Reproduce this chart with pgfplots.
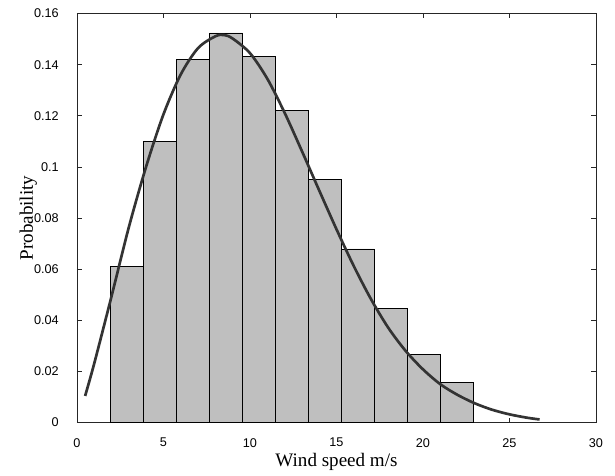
\documentclass[border=0pt]{standalone}
\usepackage{fontspec}
\setmainfont{Liberation Serif}
\newfontfamily\helv{Liberation Sans}
\usepackage{pgfplots}
\pgfplotsset{compat=1.18}

\definecolor{barfill}{RGB}{191,191,191}
\definecolor{curvegray}{RGB}{51,51,51}
\definecolor{axisgray}{RGB}{38,38,38}

\begin{document}
\begin{tikzpicture}
  % keep the reference's margins (1px = 0.75pt)
  \useasboundingbox (-57.75pt,-39.4pt) rectangle (403.5pt,316.9pt);
  \begin{axis}[
    scale only axis,
    width=389.25pt, height=306.75pt,
    xmin=0, xmax=30,
    ymin=0, ymax=0.16,
    xtick={0,5,10,15,20,25,30},
    ytick={0,0.02,0.04,0.06,0.08,0.1,0.12,0.14,0.16},
    yticklabels={0,0.02,0.04,0.06,0.08,0.1,0.12,0.14,0.16},
    scaled y ticks=false,
    tick align=inside,
    major tick length=3.5pt,
    tick style={axisgray, line width=0.5pt},
    axis line style={axisgray, line width=0.5pt},
    ticklabel style={font=\helv\fontsize{9.5}{11}\selectfont, text=black},
    /pgf/number format/assume math mode=true,
    xticklabel style={inner sep=0pt, anchor=north, yshift=-11.6pt},
    yticklabel style={inner sep=0pt, anchor=east, xshift=-13.5pt},
    xlabel={Wind speed m/s},
    ylabel={Probability},
    label style={font=\fontsize{14.3}{16}\selectfont},
    xlabel style={at={(axis description cs:0.5,-0.1063)}, anchor=base},
    ylabel style={at={(axis description cs:-0.0848,0.5)}, anchor=base},
  ]
    % histogram (probability per bin)
    \addplot[ybar interval, fill=barfill, draw=black, line width=0.5pt]
      coordinates {
        (1.95,0.0610) (3.86,0.1100) (5.76,0.1422) (7.67,0.1524)
        (9.57,0.1432) (11.48,0.1222) (13.38,0.0951) (15.29,0.0679)
        (17.19,0.0448) (19.10,0.0267) (21.00,0.0157) (22.91,0)
      };
    % fitted density curve
    \addplot[curvegray, line width=2pt, smooth, no marks]
      coordinates {
        (0.47,0.0104) (1,0.0232) (2,0.0495) (3,0.0765) (4,0.1002)
        (5,0.1206) (6,0.1362) (7,0.1465) (8,0.1511) (8.5,0.1516)
        (9,0.1502) (10,0.1445) (11,0.1345) (12,0.1212) (13,0.1062)
        (14,0.0908) (15,0.0756) (16,0.0612) (17,0.0482) (18,0.0370)
        (19,0.0280) (20,0.0208) (21,0.0150) (22,0.0108) (23,0.0075)
        (24,0.0050) (25,0.0032) (26,0.0019) (26.74,0.0012)
      };
  \end{axis}
\end{tikzpicture}
\end{document}
